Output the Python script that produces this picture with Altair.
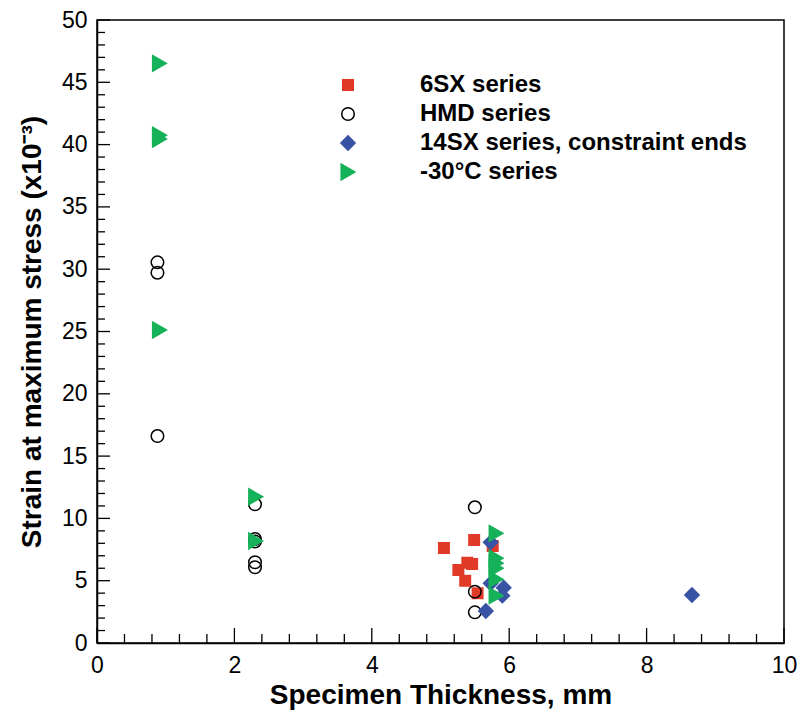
import altair as alt
import pandas as pd

# ---- data ----
series_names = ["6SX series", "HMD series", "14SX series, constraint ends", "-30°C series"]

sx6_x = [5.05, 5.26, 5.36, 5.39, 5.46, 5.49, 5.54, 5.76]
sx6_y = [7.62, 5.86, 5.00, 6.44, 6.34, 8.27, 3.99, 7.78]

hmd_x = [0.88, 0.88, 0.88, 2.30, 2.30, 2.30, 2.30, 2.30, 5.50, 5.50, 5.50]
hmd_y = [30.55, 29.72, 16.61, 11.13, 8.35, 8.15, 6.48, 6.08, 10.89, 4.12, 2.46]

sx14_x = [5.73, 5.73, 5.92, 5.90, 5.66, 8.66]
sx14_y = [8.08, 4.79, 4.44, 3.80, 2.57, 3.85]

m30_x = [0.91, 0.91, 0.91, 0.91, 2.31, 2.31, 5.81, 5.81, 5.81, 5.81, 5.81, 5.81]
m30_y = [46.52, 40.75, 40.45, 25.12, 11.74, 8.19, 8.80, 6.80, 6.40, 6.00, 5.11, 3.80]

x_major = [0, 2, 4, 6, 8, 10]
x_minor = [0.4, 0.8, 1.2, 1.6, 2.4, 2.8, 3.2, 3.6, 4.4, 4.8, 5.2, 5.6,
           6.4, 6.8, 7.2, 7.6, 8.4, 8.8, 9.2, 9.6]
y_major = [0, 5, 10, 15, 20, 25, 30, 35, 40, 45, 50]
y_minor = [v for v in range(1, 50) if v % 5 != 0]

rows = []
for name, xs, ys in [(series_names[0], sx6_x, sx6_y), (series_names[1], hmd_x, hmd_y),
                     (series_names[2], sx14_x, sx14_y), (series_names[3], m30_x, m30_y)]:
    for a, b in zip(xs, ys):
        rows.append({"series": name, "thickness": a, "strain": b})
df = pd.DataFrame(rows)

W, H = 687, 623
FONT = "Liberation Sans"

xscale = alt.Scale(domain=[0, 10], nice=False, zero=False)
yscale = alt.Scale(domain=[0, 50], nice=False, zero=False)

fill_range = ["#E13A27", "transparent", "#3953A4", "#16B25A"]
stroke_range = ["#E13A27", "#000000", "#3953A4", "#16B25A"]
shape_range = ["square", "circle", "diamond", "triangle-right"]
size_range = [110, 250, 150, 40]

legend = alt.Legend(
    title=None, orient="none", legendX=239, legendY=53,
    labelFont=FONT, labelFontSize=24, labelFontWeight="bold", labelColor="black",
    labelOffset=60, labelLimit=0, rowPadding=5, symbolStrokeWidth=1.5,
)

points = alt.Chart(df).mark_point(strokeWidth=1.5, opacity=1).encode(
    x=alt.X("thickness:Q", scale=xscale,
            axis=alt.Axis(values=x_major, format="d", title="Specimen Thickness, mm", ticks=False,
                          grid=False, labelFlush=False, labelPadding=11, titlePadding=4)),
    y=alt.Y("strain:Q", scale=yscale,
            axis=alt.Axis(values=y_major, format="d", title="Strain at maximum stress (x10⁻³)", ticks=False,
                          grid=False, labelFlush=False, labelPadding=10, titlePadding=15)),
    shape=alt.Shape("series:N", scale=alt.Scale(domain=series_names, range=shape_range), legend=legend),
    fill=alt.Fill("series:N", scale=alt.Scale(domain=series_names, range=fill_range), legend=legend),
    stroke=alt.Stroke("series:N", scale=alt.Scale(domain=series_names, range=stroke_range), legend=legend),
    size=alt.Size("series:N", scale=alt.Scale(domain=series_names, range=size_range), legend=legend),
)

def xticks(vals, length):
    return alt.Chart(pd.DataFrame({"t": vals})).mark_rule(color="black", strokeWidth=1.3).encode(
        x=alt.X("t:Q", scale=xscale),
        y=alt.value(H), y2=alt.value(H - length))

def yticks(vals, length):
    return alt.Chart(pd.DataFrame({"t": vals})).mark_rule(color="black", strokeWidth=1.3).encode(
        y=alt.Y("t:Q", scale=yscale),
        x=alt.value(0), x2=alt.value(length))

chart = alt.layer(
    points, xticks(x_major, 15), xticks(x_minor, 9), yticks(y_major, 13), yticks(y_minor, 8)
).properties(
    width=W, height=H, autosize="none", background="white",
    padding={"left": 97, "top": 20, "right": 14, "bottom": 73},
).configure_view(
    stroke="black", strokeWidth=1.5
).configure_axis(
    domainColor="black", domainWidth=1.5,
    labelFont=FONT, labelFontSize=23, labelColor="black",
    titleFont=FONT, titleFontSize=28, titleFontWeight="bold", titleColor="black",
)

chart.save("out.html", embed_options={"renderer": "svg", "actions": False})
